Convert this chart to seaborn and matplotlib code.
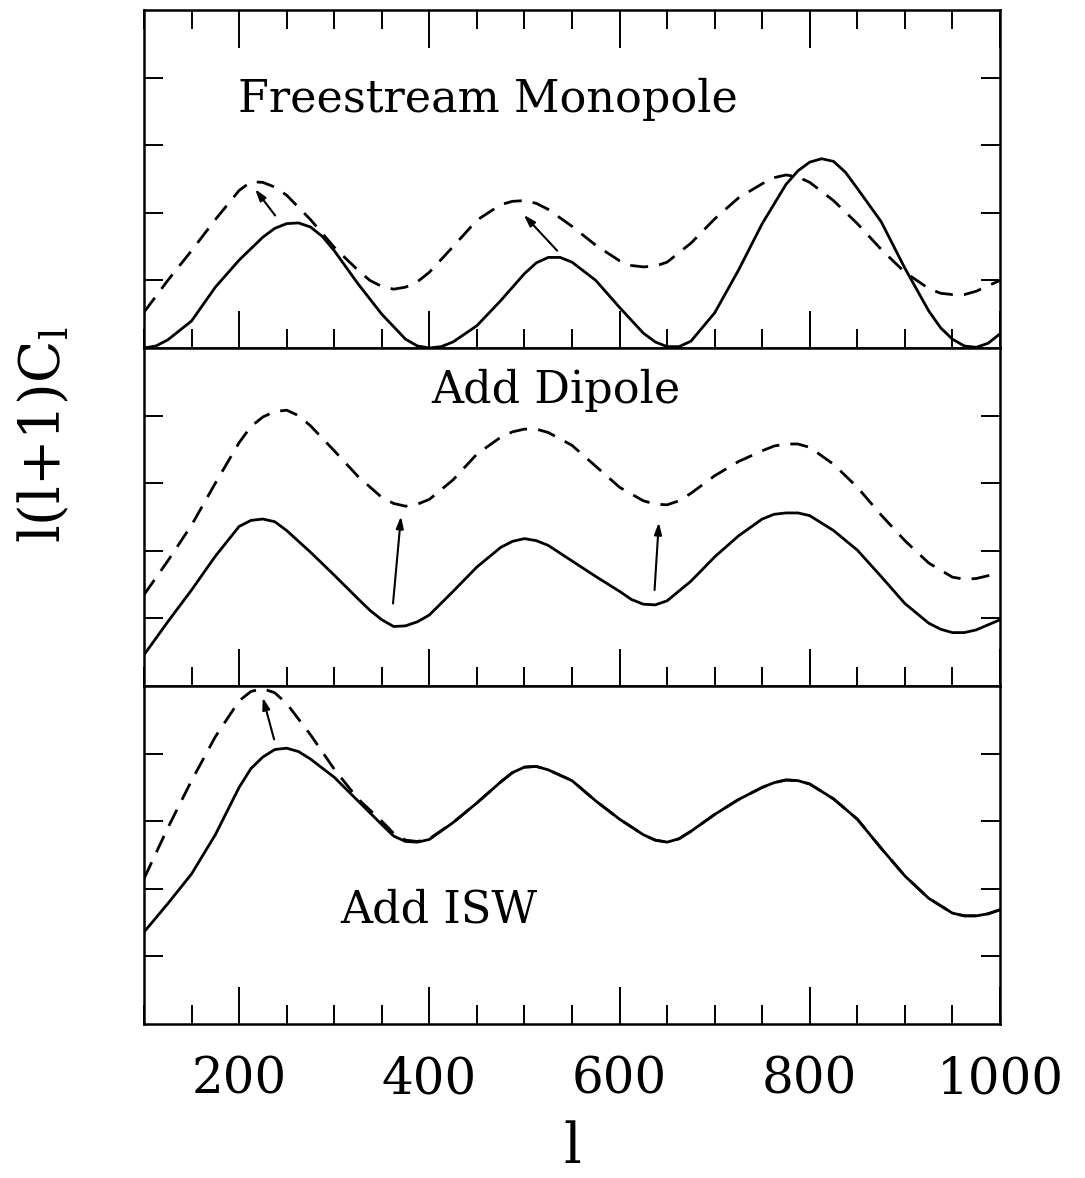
import numpy as np
import pandas as pd
import matplotlib
matplotlib.use("Agg")
import matplotlib.pyplot as plt
from matplotlib.ticker import MultipleLocator, FixedLocator
import seaborn as sns

# ---------------- data ----------------
# Panel 1: Freestream Monopole
mono_solid_l = [100, 112.5, 125, 150, 175, 200, 225, 237.5, 250, 262.5, 275, 287.5, 300,
                325, 350, 375, 387.5, 400, 412.5, 425, 450, 475, 500, 512.5, 525, 537.5,
                550, 575, 600, 625, 637.5, 650, 662.5, 675, 700, 725, 750, 775, 787.5,
                800, 812.5, 825, 837.5, 850, 875, 900, 925, 937.5, 950, 962.5, 975,
                987.5, 1000]
mono_solid = [0.00, 0.03, 0.12, 0.40, 0.90, 1.30, 1.64, 1.77, 1.84, 1.85, 1.79, 1.65, 1.44,
              0.95, 0.50, 0.13, 0.03, 0.00, 0.02, 0.09, 0.33, 0.70, 1.10, 1.26, 1.34, 1.34,
              1.27, 1.00, 0.60, 0.22, 0.09, 0.02, 0.02, 0.10, 0.52, 1.15, 1.84, 2.42, 2.62,
              2.75, 2.80, 2.76, 2.60, 2.36, 1.87, 1.18, 0.55, 0.30, 0.13, 0.03, 0.01,
              0.07, 0.21]
mono_dash_l = [100, 125, 150, 175, 200, 212.5, 225, 237.5, 250, 275, 300, 325, 337.5, 350,
               362.5, 375, 387.5, 400, 425, 450, 475, 487.5, 500, 512.5, 525, 550, 575,
               600, 612.5, 625, 637.5, 650, 675, 700, 725, 750, 762.5, 775, 787.5, 800,
               825, 850, 875, 900, 925, 937.5, 950, 962.5, 975, 1000]
mono_dash = [0.53, 1.00, 1.44, 1.90, 2.33, 2.46, 2.45, 2.38, 2.26, 1.90, 1.49, 1.15, 1.00, 0.91,
             0.87, 0.90, 0.98, 1.12, 1.50, 1.89, 2.12, 2.17, 2.18, 2.14, 2.05, 1.80, 1.52,
             1.29, 1.22, 1.20, 1.21, 1.27, 1.55, 1.91, 2.22, 2.43, 2.52, 2.56, 2.53, 2.45,
             2.18, 1.84, 1.46, 1.12, 0.88, 0.81, 0.79, 0.79, 0.84, 1.00]

# Panel 2: Add Dipole
dip_solid_l = [100, 125, 150, 175, 200, 212.5, 225, 237.5, 250, 275, 300, 325, 337.5, 350,
               362.5, 375, 387.5, 400, 425, 450, 475, 487.5, 500, 512.5, 525, 550, 575,
               600, 612.5, 625, 637.5, 650, 675, 700, 725, 750, 762.5, 775, 787.5, 800,
               825, 850, 875, 900, 925, 937.5, 950, 962.5, 975, 1000]
dip_solid = [0.46, 0.95, 1.42, 1.92, 2.36, 2.45, 2.47, 2.43, 2.30, 1.98, 1.64, 1.29, 1.12, 0.98,
             0.88, 0.89, 0.95, 1.05, 1.40, 1.76, 2.05, 2.14, 2.18, 2.15, 2.08, 1.85, 1.62,
             1.40, 1.28, 1.21, 1.20, 1.26, 1.55, 1.91, 2.22, 2.47, 2.54, 2.56, 2.56, 2.52,
             2.30, 2.01, 1.62, 1.22, 0.93, 0.84, 0.79, 0.79, 0.83, 0.98]
dip_dash_l = [100, 125, 150, 175, 200, 212.5, 225, 237.5, 250, 262.5, 275, 300, 325, 350,
              362.5, 375, 387.5, 400, 425, 450, 475, 487.5, 500, 512.5, 525, 550, 575, 600,
              625, 637.5, 650, 662.5, 675, 700, 725, 750, 762.5, 775, 787.5, 800, 825, 850,
              875, 900, 925, 950, 962.5, 975, 990]
dip_dash = [1.35, 1.85, 2.38, 3.00, 3.60, 3.84, 3.98, 4.06, 4.08, 4.00, 3.85, 3.48, 3.10, 2.79,
            2.70, 2.66, 2.69, 2.76, 3.05, 3.43, 3.68, 3.76, 3.80, 3.80, 3.75, 3.56, 3.25, 2.94,
            2.74, 2.69, 2.68, 2.74, 2.85, 3.11, 3.32, 3.48, 3.55, 3.58, 3.58, 3.53, 3.28, 2.94,
            2.53, 2.15, 1.82, 1.61, 1.58, 1.59, 1.64]

# Panel 3: Add ISW
isw_solid_l = [100, 125, 150, 175, 200, 212.5, 225, 237.5, 250, 262.5, 275, 300, 325, 350,
               362.5, 375, 387.5, 400, 425, 450, 475, 487.5, 500, 512.5, 525, 550, 575, 600,
               625, 637.5, 650, 662.5, 675, 700, 725, 750, 762.5, 775, 787.5, 800, 825, 850,
               875, 900, 925, 950, 962.5, 975, 987.5, 1000]
isw_solid = [1.36, 1.78, 2.22, 2.80, 3.50, 3.78, 3.95, 4.06, 4.08, 4.03, 3.92, 3.65, 3.30, 2.95,
             2.78, 2.70, 2.69, 2.73, 2.98, 3.27, 3.58, 3.72, 3.80, 3.81, 3.76, 3.60, 3.30, 3.03,
             2.80, 2.72, 2.69, 2.74, 2.85, 3.10, 3.32, 3.50, 3.57, 3.61, 3.60, 3.55, 3.33, 3.03,
             2.60, 2.19, 1.86, 1.64, 1.60, 1.60, 1.63, 1.69]
isw_dash_l = [100, 125, 150, 175, 200, 212.5, 225, 237.5, 250, 275, 300, 325, 350, 362.5, 375,
              387.5, 400, 425, 450, 475, 487.5, 500, 512.5, 525, 550, 575, 600, 625, 637.5,
              650, 662.5, 675, 700, 725, 750, 762.5, 775, 787.5, 800, 825, 850, 875, 900, 925,
              950, 962.5, 975, 987.5, 1000]
isw_dash = [2.15, 2.90, 3.60, 4.25, 4.78, 4.92, 4.96, 4.90, 4.74, 4.28, 3.77, 3.33, 3.00, 2.82,
            2.72, 2.70, 2.74, 2.98, 3.27, 3.58, 3.72, 3.80, 3.81, 3.76, 3.60, 3.30, 3.03, 2.80,
            2.72, 2.69, 2.74, 2.85, 3.10, 3.32, 3.50, 3.57, 3.61, 3.60, 3.55, 3.33, 3.03, 2.60,
            2.19, 1.86, 1.64, 1.60, 1.60, 1.63, 1.69]

# arrows: (tail l, tail value, head l, head value)
mono_arrows = [(237.9, 1.96, 216.8, 2.35), (534.4, 1.44, 499.3, 1.97)]
dip_arrows = [(361.8, 1.22, 370.2, 2.51), (636.8, 1.42, 641.3, 2.42)]
isw_arrows = [(236.8, 4.21, 224.9, 4.83)]

panel_titles = ["Freestream Monopole", "Add Dipole", "Add ISW"]
xtick_major = [200, 400, 600, 800, 1000]
xtick_labels = ["200", "400", "600", "800", "1000"]

# ---------------- styling ----------------
sns.set_style("white")
plt.rcParams["font.family"] = ["DejaVu Serif", "DejaVu Sans"]
plt.rcParams["mathtext.fontset"] = "dejavuserif"
for key in ["text.color", "axes.labelcolor", "xtick.color", "ytick.color", "axes.edgecolor"]:
    plt.rcParams[key] = "black"

fig = plt.figure(figsize=(10.85, 11.78), dpi=100)
left, right = 144 / 1085, 1000 / 1085
top, bottom = 1 - 10 / 1178, 1 - 1024 / 1178
ph = (top - bottom) / 3
axes = [fig.add_axes([left, top - (i + 1) * ph, right - left, ph]) for i in range(3)]

panels = [
    (mono_solid_l, mono_solid, mono_dash_l, mono_dash, mono_arrows),
    (dip_solid_l, dip_solid, dip_dash_l, dip_dash, dip_arrows),
    (isw_solid_l, isw_solid, isw_dash_l, isw_dash, isw_arrows),
]

lw_line = 2.0
dash_style = (0, (6.5, 4.0))

for i, (ax, (xs, ys, xd, yd, arrows)) in enumerate(zip(axes, panels)):
    df_s = pd.DataFrame({"l": xs, "v": ys})
    df_d = pd.DataFrame({"l": xd, "v": yd})
    sns.lineplot(data=df_s, x="l", y="v", ax=ax, color="black", lw=lw_line,
                 estimator=None, sort=False)
    sns.lineplot(data=df_d, x="l", y="v", ax=ax, color="black", lw=lw_line,
                 linestyle=dash_style, estimator=None, sort=False)
    for (x0, y0, x1, y1) in arrows:
        ax.annotate("", xy=(x1, y1), xytext=(x0, y0),
                    arrowprops=dict(arrowstyle="-|>,head_length=0.7,head_width=0.22",
                                    color="black", lw=1.5, shrinkA=0, shrinkB=0))
    ax.set_xlim(100, 1000)
    ax.set_ylim(0, 5)
    ax.set_xlabel("")
    ax.set_ylabel("")
    ax.xaxis.set_major_locator(FixedLocator(xtick_major))
    ax.xaxis.set_minor_locator(MultipleLocator(50))
    ax.yaxis.set_major_locator(FixedLocator([1, 2, 3, 4]))
    ax.tick_params(axis="x", which="major", direction="in", length=27, width=1.4,
                   top=(i == 0), bottom=True, labelbottom=(i == 2), labeltop=False,
                   labelsize=36, pad=22, colors="black")
    ax.tick_params(axis="x", which="minor", direction="in", length=13.5, width=1.4,
                   top=(i == 0), bottom=True, colors="black")
    ax.tick_params(axis="y", which="major", direction="in", length=14, width=1.4,
                   left=True, right=True, labelleft=False, colors="black")
    for sp in ax.spines.values():
        sp.set_linewidth(1.8)
        sp.set_color("black")
    if i == 2:
        ax.set_xticklabels(xtick_labels)

axes[0].text(0.11, 0.697, panel_titles[0], transform=axes[0].transAxes,
             fontsize=32, ha="left", va="baseline", color="black")
axes[1].text(0.335, 0.836, panel_titles[1], transform=axes[1].transAxes,
             fontsize=32, ha="left", va="baseline", color="black")
axes[2].text(0.229, 0.30, panel_titles[2], transform=axes[2].transAxes,
             fontsize=32, ha="left", va="baseline", color="black")

axes[2].set_xlabel("l", fontsize=40, labelpad=12, color="black")
fig.text(0.041, 0.631, r"l(l+1)C$_\mathrm{l}$", rotation=90, fontsize=40,
         ha="center", va="center", color="black")

fig.savefig("out.png", dpi=100)
